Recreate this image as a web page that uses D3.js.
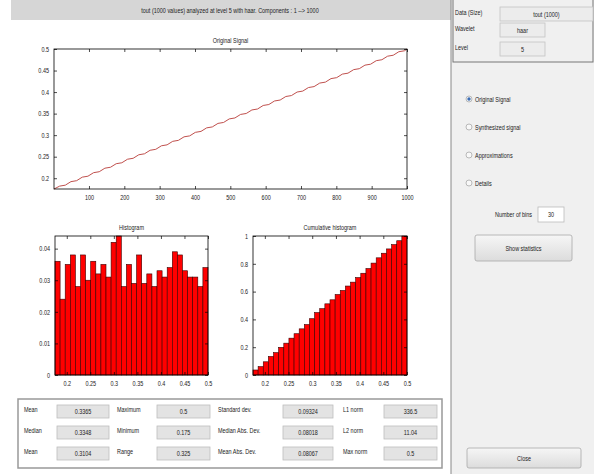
<!DOCTYPE html>
<html>
<head>
<meta charset="utf-8">
<script src="https://cdn.jsdelivr.net/npm/d3@7"></script>
<style>
  body { margin: 0; background: #fff; }
  svg text { font-family: "Liberation Sans Narrow", "Arial Narrow", "Liberation Sans", sans-serif; font-size: 7px; fill: #222; }
</style>
</head>
<body>
<svg id="chart"></svg>
<script>
// page size
const width = 594;
const height = 474;

// Original signal, sampled every 16 points
const sampleIdx = [1, 17, 33, 49, 65, 81, 97, 113, 129, 145, 161, 177, 193, 209, 225, 241,
  257, 273, 289, 305, 321, 337, 353, 369, 385, 401, 417, 433, 449, 465, 481, 497,
  513, 529, 545, 561, 577, 593, 609, 625, 641, 657, 673, 689, 705, 721, 737, 753,
  769, 785, 801, 817, 833, 849, 865, 881, 897, 913, 929, 945, 961, 977, 993, 1000];
const signal = [0.175, 0.1817, 0.1839, 0.1921, 0.1943, 0.2025, 0.2047, 0.2129, 0.2151, 0.2233,
  0.2255, 0.2337, 0.2359, 0.2441, 0.2463, 0.2545, 0.2567, 0.2649, 0.2671, 0.2753,
  0.2775, 0.2857, 0.2879, 0.2961, 0.2983, 0.3065, 0.3087, 0.3169, 0.3191, 0.3273,
  0.3295, 0.3377, 0.3399, 0.3481, 0.3503, 0.3585, 0.3607, 0.3689, 0.3711, 0.3793,
  0.3815, 0.3897, 0.3919, 0.4001, 0.4023, 0.4105, 0.4127, 0.4209, 0.4231, 0.4313,
  0.4335, 0.4417, 0.4439, 0.4521, 0.4543, 0.4625, 0.4647, 0.4729, 0.4751, 0.4833,
  0.4855, 0.4937, 0.4959, 0.5];

// histogram (30 bins between min and max)
const histMin = 0.175, histMax = 0.5;
const histValues = [0.036, 0.024, 0.035, 0.038, 0.028, 0.038, 0.030, 0.036, 0.032, 0.035,
  0.031, 0.042, 0.044, 0.028, 0.035, 0.029, 0.038, 0.029, 0.032, 0.028,
  0.033, 0.031, 0.034, 0.039, 0.038, 0.033, 0.031, 0.031, 0.028, 0.034];
const cumValues = Array.from(d3.cumsum(histValues));

// tick labels
const signalXTicks = [100, 200, 300, 400, 500, 600, 700, 800, 900, 1000];
const signalYTicks = [0.2, 0.25, 0.3, 0.35, 0.4, 0.45, 0.5];
const histXTicks = [0.2, 0.25, 0.3, 0.35, 0.4, 0.45, 0.5];
const histYTicks = [0, 0.01, 0.02, 0.03, 0.04];
const cumYTicks = [0, 0.2, 0.4, 0.6, 0.8, 1];

// statistics table
const statNames = [["Mean", "Median", "Mean"], ["Maximum", "Minimum", "Range"],
  ["Standard dev.", "Median Abs. Dev.", "Mean Abs. Dev."], ["L1 norm", "L2 norm", "Max norm"]];
const statValues = [["0.3365", "0.3348", "0.3104"], ["0.5", "0.175", "0.325"],
  ["0.09324", "0.08018", "0.08067"], ["336.5", "11.04", "0.5"]];

// right panel
const infoLabels = ["Data  (Size)", "Wavelet", "Level"];
const infoValues = ["tout (1000)", "haar", "5"];
const radioLabels = ["Original Signal", "Synthesized signal", "Approximations", "Details"];
const nBinsText = "30";

const svg = d3.select("#chart").attr("width", width).attr("height", height);
const fmt = d3.format("~g");

// title bar
svg.append("rect").attr("x", 11).attr("y", 0).attr("width", 440).attr("height", 20).attr("fill", "#d6d6d6");
svg.append("text").attr("x", 230).attr("y", 13).attr("text-anchor", "middle")
   .text("tout (1000 values) analyzed at level 5 with haar.  Components :  1 --> 1000");

// helper to draw a matlab style box with inward ticks
function drawAxes(g, x, y, xt, yt, title) {
  const [x0, x1] = x.range();
  const [y0, y1] = y.range();
  g.append("rect").attr("x", x0).attr("y", y1).attr("width", x1 - x0).attr("height", y0 - y1)
   .attr("fill", "none").attr("stroke", "#000").attr("stroke-width", 0.8);

  const bottom = g.append("g").attr("transform", `translate(0,${y0})`)
    .call(d3.axisBottom(x).tickValues(xt).tickSizeInner(-3).tickSizeOuter(0).tickPadding(6).tickFormat(fmt));
  const top = g.append("g").attr("transform", `translate(0,${y1})`)
    .call(d3.axisTop(x).tickValues(xt).tickSizeInner(-3).tickSizeOuter(0).tickFormat(""));
  const left = g.append("g").attr("transform", `translate(${x0},0)`)
    .call(d3.axisLeft(y).tickValues(yt).tickSizeInner(-3).tickSizeOuter(0).tickPadding(5).tickFormat(fmt));
  const right = g.append("g").attr("transform", `translate(${x1},0)`)
    .call(d3.axisRight(y).tickValues(yt).tickSizeInner(-3).tickSizeOuter(0).tickFormat(""));
  [bottom, top, left, right].forEach(a => {
    a.select(".domain").remove();
    a.selectAll("line").attr("stroke", "#000").attr("stroke-width", 0.7);
    a.selectAll("text").attr("font-size", null).attr("font-family", null).attr("fill", "#222");
  });
  g.append("text").attr("x", (x0 + x1) / 2).attr("y", y1 - 6).attr("text-anchor", "middle").text(title);
}

// original signal
const sx = d3.scaleLinear().domain([1, 1000]).range([54, 407]);
const sy = d3.scaleLinear().domain([histMin, histMax]).range([189, 49]);
const gSig = svg.append("g");
gSig.append("path")
    .datum(d3.zip(sampleIdx, signal))
    .attr("fill", "none").attr("stroke", "#c0504d").attr("stroke-width", 1)
    .attr("d", d3.line().x(d => sx(d[0])).y(d => sy(d[1])));
drawAxes(gSig, sx, sy, signalXTicks, signalYTicks, "Original Signal");

// histogram
const binW = (histMax - histMin) / histValues.length;
const hx = d3.scaleLinear().domain([histMin, histMax]).range([55, 208]);
const hy = d3.scaleLinear().domain([0, 0.044]).range([375, 236]);
const gHist = svg.append("g");
gHist.selectAll("rect.bar").data(histValues).enter().append("rect")
  .attr("class", "bar")
  .attr("x", (d, i) => hx(histMin + i * binW))
  .attr("width", (d, i) => hx(histMin + (i + 1) * binW) - hx(histMin + i * binW))
  .attr("y", d => hy(d))
  .attr("height", d => hy(0) - hy(d))
  .attr("fill", "#ff0000").attr("stroke", "#3a0000").attr("stroke-width", 0.6);
drawAxes(gHist, hx, hy, histXTicks, histYTicks, "Histogram");

// cumulative histogram
const cx = d3.scaleLinear().domain([histMin, histMax]).range([253, 407]);
const cy = d3.scaleLinear().domain([0, 1]).range([375, 236]);
const gCum = svg.append("g");
gCum.selectAll("rect.bar").data(cumValues).enter().append("rect")
  .attr("class", "bar")
  .attr("x", (d, i) => cx(histMin + i * binW))
  .attr("width", (d, i) => cx(histMin + (i + 1) * binW) - cx(histMin + i * binW))
  .attr("y", d => cy(Math.min(d, 1)))
  .attr("height", d => cy(0) - cy(Math.min(d, 1)))
  .attr("fill", "#ff0000").attr("stroke", "#3a0000").attr("stroke-width", 0.6);
drawAxes(gCum, cx, cy, histXTicks, cumYTicks, "Cumulative histogram");

// statistics box
svg.append("rect").attr("x", 18).attr("y", 399).attr("width", 424).attr("height", 69)
   .attr("fill", "#fff").attr("stroke", "#999").attr("stroke-width", 1.5);
const colLabelX = [24, 117, 218, 343];
const colFieldX = [57, 157, 283, 384];
const fieldW = [52, 53, 50, 53];
const rowY = [405, 426, 447];
statNames.forEach((col, c) => {
  col.forEach((name, r) => {
    svg.append("text").attr("x", colLabelX[c]).attr("y", rowY[r] + 7).text(name);
    svg.append("rect").attr("x", colFieldX[c]).attr("y", rowY[r]).attr("width", fieldW[c]).attr("height", 13)
       .attr("fill", "#e3e3e3").attr("stroke", "#bdbdbd").attr("stroke-width", 0.8);
    svg.append("text").attr("x", colFieldX[c] + fieldW[c] / 2).attr("y", rowY[r] + 9)
       .attr("text-anchor", "middle").text(statValues[c][r]);
  });
});

// right control panel
svg.append("rect").attr("x", 451).attr("y", 0).attr("width", 143).attr("height", height).attr("fill", "#f0f0f0");
svg.append("line").attr("x1", 451).attr("x2", 451).attr("y1", 0).attr("y2", height).attr("stroke", "#888").attr("stroke-width", 1);
svg.append("rect").attr("x", 453).attr("y", -1).attr("width", 140).attr("height", 63)
   .attr("fill", "#f0f0f0").attr("stroke", "#777").attr("stroke-width", 1);
const infoY = [7, 23, 42];
const infoW = [93, 45, 45];
infoLabels.forEach((lab, i) => {
  svg.append("text").attr("x", 455).attr("y", infoY[i] + 8).text(lab);
  svg.append("rect").attr("x", 500).attr("y", infoY[i]).attr("width", infoW[i]).attr("height", 14)
     .attr("fill", "#ececec").attr("stroke", "#c4c4c4").attr("stroke-width", 0.8);
  svg.append("text").attr("x", 500 + infoW[i] / 2).attr("y", infoY[i] + 10).attr("text-anchor", "middle").text(infoValues[i]);
});

const radioY = [99, 127, 155, 183];
radioLabels.forEach((lab, i) => {
  svg.append("circle").attr("cx", 469).attr("cy", radioY[i]).attr("r", 3)
     .attr("fill", "#f8f8f8").attr("stroke", "#aaa").attr("stroke-width", 0.8);
  if (i === 0) svg.append("circle").attr("cx", 469).attr("cy", radioY[i]).attr("r", 1.7).attr("fill", "#3b6db5");
  svg.append("text").attr("x", 475).attr("y", radioY[i] + 2.5).text(lab);
});

svg.append("text").attr("x", 532).attr("y", 217).attr("text-anchor", "end").text("Number of bins");
svg.append("rect").attr("x", 538).attr("y", 207).attr("width", 26).attr("height", 15)
   .attr("fill", "#fff").attr("stroke", "#bbb").attr("stroke-width", 0.8);
svg.append("text").attr("x", 551).attr("y", 217).attr("text-anchor", "middle").text(nBinsText);

// buttons with a light gradient
const grad = svg.append("defs").append("linearGradient").attr("id", "btn").attr("x1", 0).attr("x2", 0).attr("y1", 0).attr("y2", 1);
grad.append("stop").attr("offset", "0%").attr("stop-color", "#f6f6f6");
grad.append("stop").attr("offset", "100%").attr("stop-color", "#dcdcdc");
function button(x, y, w, h, label) {
  svg.append("rect").attr("x", x).attr("y", y).attr("width", w).attr("height", h).attr("rx", 2)
     .attr("fill", "url(#btn)").attr("stroke", "#a8a8a8").attr("stroke-width", 0.8);
  svg.append("text").attr("x", x + w / 2).attr("y", y + h / 2 + 2.5).attr("text-anchor", "middle").text(label);
}
button(475, 235, 97, 26, "Show statistics");
button(467, 448, 114, 20, "Close");

// squeeze all text to the narrow look of the original gui font
svg.selectAll("text").each(function() {
  const w = this.getComputedTextLength();
  if (w > 0) d3.select(this).attr("textLength", w * 0.78).attr("lengthAdjust", "spacingAndGlyphs");
});
</script>
</body>
</html>
